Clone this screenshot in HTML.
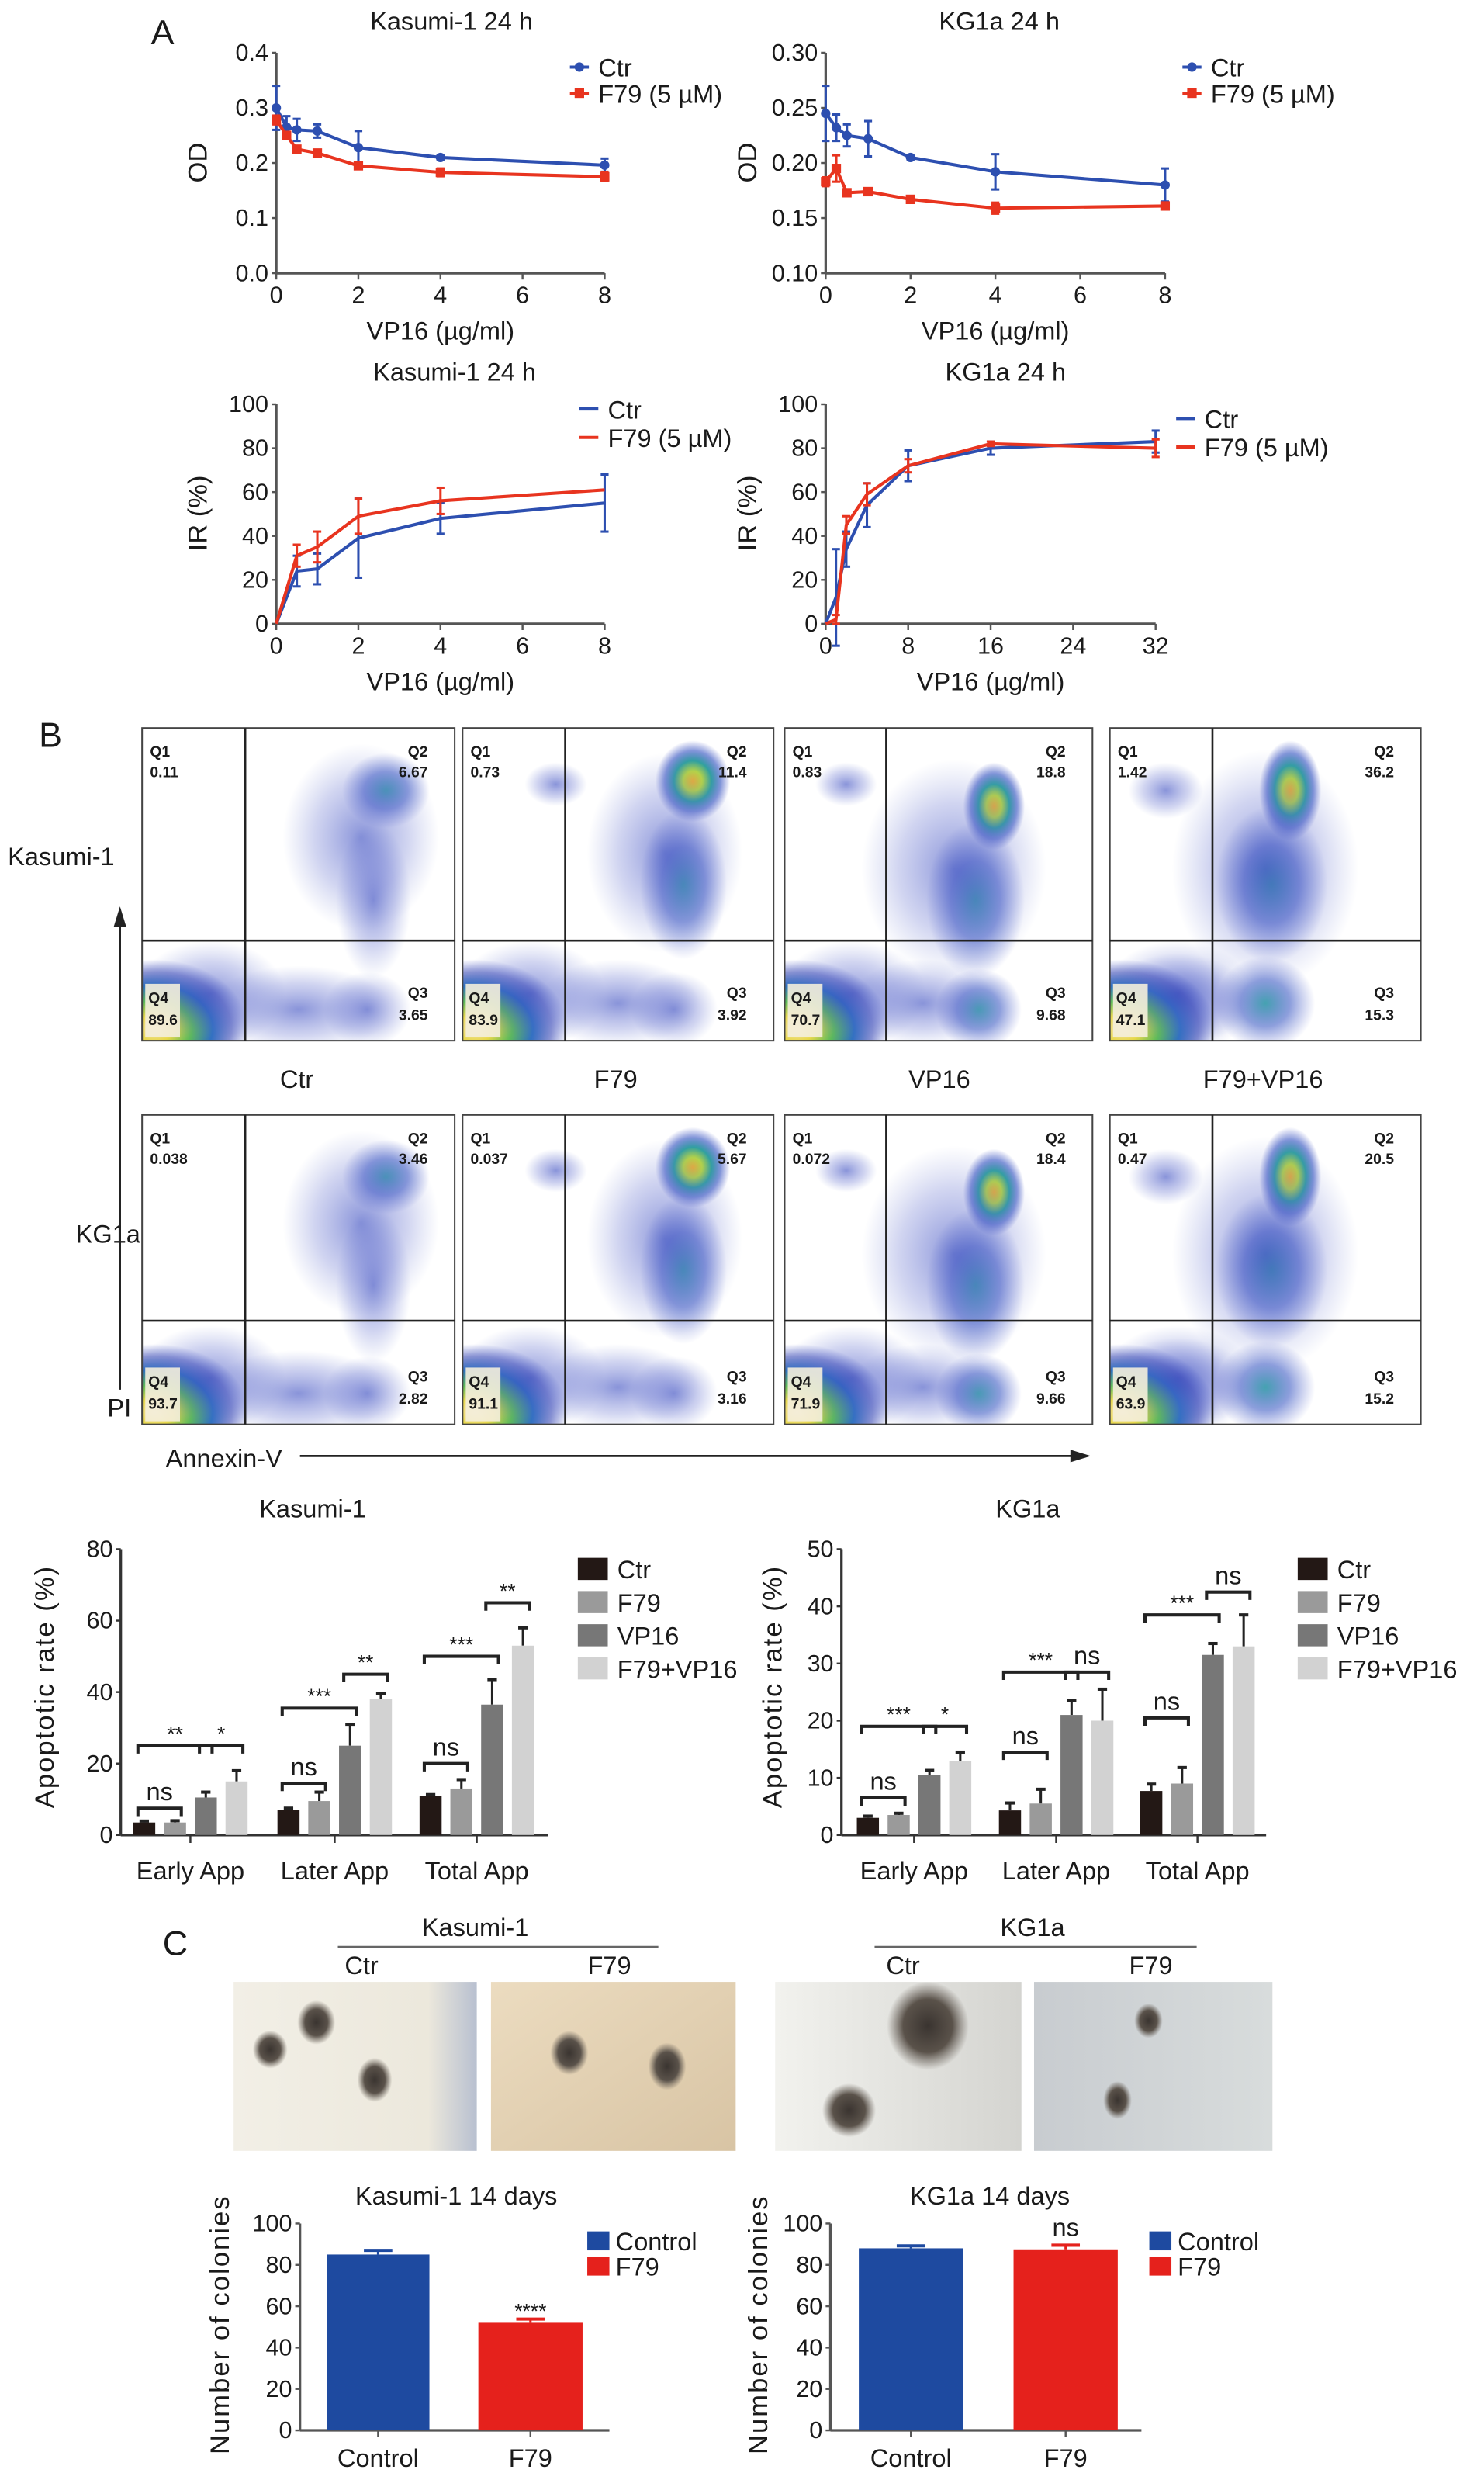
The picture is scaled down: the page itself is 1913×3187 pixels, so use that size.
<!DOCTYPE html>
<html><head><meta charset="utf-8"><style>
html,body{margin:0;padding:0;background:#fff}
svg{display:block}
text{font-family:"Liberation Sans Narrow","Liberation Sans",sans-serif;fill:#1a1a1a}
</style></head><body>
<svg id="fig" xmlns="http://www.w3.org/2000/svg" width="1913" height="3187" viewBox="0 0 940 1566" preserveAspectRatio="none">
<defs id="defs">
<radialGradient id="hot"><stop offset="0" stop-color="#f4e0b0"/><stop offset="0.2" stop-color="#e8d84a"/><stop offset="0.4" stop-color="#5cc050"/><stop offset="0.62" stop-color="#2a70c0"/><stop offset="0.82" stop-color="#3040b0" stop-opacity="0.55"/><stop offset="1" stop-color="#4050c0" stop-opacity="0"/></radialGradient>
<radialGradient id="warm"><stop offset="0" stop-color="#f0b030"/><stop offset="0.25" stop-color="#b8d840"/><stop offset="0.5" stop-color="#30a0a0"/><stop offset="0.75" stop-color="#3050c0" stop-opacity="0.6"/><stop offset="1" stop-color="#4050c0" stop-opacity="0"/></radialGradient>
<radialGradient id="mid"><stop offset="0" stop-color="#3098a8" stop-opacity="0.9"/><stop offset="0.5" stop-color="#3050c0" stop-opacity="0.55"/><stop offset="1" stop-color="#5060c8" stop-opacity="0"/></radialGradient>
<radialGradient id="cool"><stop offset="0" stop-color="#3a4cc0" stop-opacity="0.6"/><stop offset="0.6" stop-color="#5a68cc" stop-opacity="0.28"/><stop offset="1" stop-color="#7080d0" stop-opacity="0"/></radialGradient>
<radialGradient id="colony"><stop offset="0" stop-color="#3a3430"/><stop offset="0.6" stop-color="#5a524a"/><stop offset="1" stop-color="#6a625a" stop-opacity="0"/></radialGradient>
<linearGradient id="ph1" x1="0" x2="1"><stop offset="0" stop-color="#f2efe6"/><stop offset="0.8" stop-color="#ece8dc"/><stop offset="1" stop-color="#b8c0d0"/></linearGradient>
<linearGradient id="ph2" x1="0" x2="1" y1="0" y2="1"><stop offset="0" stop-color="#ecdcc0"/><stop offset="1" stop-color="#d8c4a4"/></linearGradient>
<linearGradient id="ph3" x1="0" x2="1"><stop offset="0" stop-color="#f2f2ee"/><stop offset="1" stop-color="#d4d4d0"/></linearGradient>
<linearGradient id="ph4" x1="0" x2="1"><stop offset="0" stop-color="#c8ccd0"/><stop offset="1" stop-color="#d8dcdc"/></linearGradient>
</defs>
<g id="root"></g>
</svg>
<script>
// ===== Panel A data =====
const odX = [0, 0.25, 0.5, 1, 2, 4, 8];
const odKasCtr = [0.30, 0.265, 0.26, 0.258, 0.228, 0.21, 0.196];
const odKasCtrErr = [0.04, 0.02, 0.02, 0.012, 0.03, 0.004, 0.012];
const odKasF79 = [0.278, 0.25, 0.225, 0.218, 0.195, 0.183, 0.175];
const odKasF79Err = [0.008, 0.006, 0.006, 0.006, 0.006, 0.007, 0.008];
const odKgCtr = [0.245, 0.232, 0.225, 0.222, 0.205, 0.192, 0.180];
const odKgCtrErr = [0.025, 0.012, 0.01, 0.016, 0.002, 0.016, 0.015];
const odKgF79 = [0.183, 0.195, 0.173, 0.174, 0.167, 0.159, 0.161];
const odKgF79Err = [0.004, 0.012, 0.003, 0.003, 0.003, 0.005, 0.003];
const irKasX = [0, 0.5, 1, 2, 4, 8];
const irKasCtr = [0, 24, 25, 39, 48, 55];
const irKasCtrErr = [0, 7, 7, 18, 7, 13];
const irKasF79 = [0, 31, 35, 49, 56, 61];
const irKasF79Err = [0, 5, 7, 8, 6, 0];
const irKgX = [0, 1, 2, 4, 8, 16, 32];
const irKgCtr = [0, 12, 34, 54, 72, 80, 83];
const irKgCtrErr = [0, 22, 8, 10, 7, 3, 5];
const irKgF79 = [0, 2, 45, 59, 72, 82, 80];
const irKgF79Err = [0, 2, 4, 5, 3, 1, 4];
// ===== Panel B bars =====
const groups = ["Early App", "Later App", "Total App"];
const seriesNames = ["Ctr", "F79", "VP16", "F79+VP16"];
const kasBar = [[3.5, 3.5, 10.5, 15], [7, 9.5, 25, 38], [11, 13, 36.5, 53]];
const kasBarErr = [[0.4, 0.5, 1.5, 3], [0.5, 2.5, 6, 1.5], [0.3, 2.5, 7, 5]];
const kgBar = [[3, 3.5, 10.5, 13], [4.3, 5.5, 21, 20], [7.7, 9, 31.5, 33]];
const kgBarErr = [[0.3, 0.3, 0.8, 1.5], [1.3, 2.5, 2.5, 5.5], [1.2, 2.8, 2, 5.5]];
// brackets: [group, fromBar, toBar, yValue, label]
const kasBrk = [[0,0,1,7.5,"ns"],[0,0,2,25,"**"],[0,2,3,25,"*"],[1,0,1,14.5,"ns"],[1,0,2,35.5,"***"],[1,2,3,45,"**"],[2,0,1,20,"ns"],[2,0,2,50,"***"],[2,2,3,65,"**"]];
const kgBrk = [[0,0,1,6.5,"ns"],[0,0,2,19,"***"],[0,2,3,19,"*"],[1,0,1,14.5,"ns"],[1,0,2,28.5,"***"],[1,2,3,28.5,"ns"],[2,0,1,20.5,"ns"],[2,0,2,38.5,"***"],[2,2,3,42.5,"ns"]];
// ===== Flow values =====
const flowCols = ["Ctr", "F79", "VP16", "F79+VP16"];
const flowKas = [["0.11","6.67","3.65","89.6"],["0.73","11.4","3.92","83.9"],["0.83","18.8","9.68","70.7"],["1.42","36.2","15.3","47.1"]];
const flowKg = [["0.038","3.46","2.82","93.7"],["0.037","5.67","3.16","91.1"],["0.072","18.4","9.66","71.9"],["0.47","20.5","15.2","63.9"]];
// ===== Panel C =====
const colCats = ["Control", "F79"];
const colKas = [85, 52];
const colKasErr = [2, 1.8];
const colKg = [88, 87.5];
const colKgErr = [1.2, 2];

const NS = "http://www.w3.org/2000/svg";
const root = document.getElementById("root");
const defs = document.getElementById("defs");
function el(tag, attrs, parent, txt) {
  const e = document.createElementNS(NS, tag);
  for (const k in attrs) e.setAttribute(k, attrs[k]);
  if (txt !== undefined) e.textContent = txt;
  (parent || root).appendChild(e);
  return e;
}
function lin(d0, d1, r0, r1) { return v => r0 + (v - d0) * (r1 - r0) / (d1 - d0); }
function grp(name) { const g = el("g", {});   return g; }
function txt(g, x, y, s, size, anchor, name, extra) {
  const t = el("text", Object.assign({x: x, y: y, "font-size": size, "text-anchor": anchor || "middle"}, extra || {}), g, s);
  
  
  return t;
}
const BLUE = "#2d4fb0", RED = "#e8341f";

function axes(g, x0, x1, y0, y1, ys, yticks, ylab, xs, xticks, xlab, axisCol) {
  const c = axisCol || "#555";
  const ax = el("line", {x1: x0, y1: y0, x2: x0, y2: y1, stroke: c, "stroke-width": 1.6}, g);
   
  const bx = el("line", {x1: x0, y1: y0, x2: x1, y2: y0, stroke: c, "stroke-width": 1.6}, g);
   
  yticks.forEach((v, i) => {
    el("line", {x1: x0 - 3, y1: ys(v), x2: x0, y2: ys(v), stroke: c, "stroke-width": 1.2}, g);
    txt(g, x0 - 5, ys(v) + 5, ylab[i], 15, "end", "y-tick-label");
  });
  if (xs) xticks.forEach((v, i) => {
    el("line", {x1: xs(v), y1: y0, x2: xs(v), y2: y0 + 4, stroke: c, "stroke-width": 1.2}, g);
    txt(g, xs(v), y0 + 19, xlab[i], 15, "middle", "x-tick-label");
  });
}
function lineSeries(g, xs, ys, X, Y, E, col, marker, name) {
  const pts = X.map((x, i) => xs(x) + "," + ys(Y[i])).join(" ");
  const pl = el("polyline", {points: pts, fill: "none", stroke: col, "stroke-width": 2}, g);
   
  X.forEach((x, i) => {
    if (E[i] > 0) {
      const a = ys(Y[i] + E[i]), b = ys(Y[i] - E[i]), cx = xs(x);
      el("line", {x1: cx, y1: a, x2: cx, y2: b, stroke: col, "stroke-width": 1.5}, g);
      el("line", {x1: cx - 2.5, y1: a, x2: cx + 2.5, y2: a, stroke: col, "stroke-width": 1.5}, g);
      el("line", {x1: cx - 2.5, y1: b, x2: cx + 2.5, y2: b, stroke: col, "stroke-width": 1.5}, g);
    }
    if (marker === "c") { const m = el("circle", {cx: xs(x), cy: ys(Y[i]), r: 3, fill: col}, g);   }
    if (marker === "s") { const m = el("rect", {x: xs(x) - 3, y: ys(Y[i]) - 3, width: 6, height: 6, fill: col}, g);   }
  });
}
function legendLine(g, x, y, col, label, marker) {
  el("line", {x1: x - 6, y1: y, x2: x + 6, y2: y, stroke: col, "stroke-width": 2}, g);
  if (marker === "c") el("circle", {cx: x, cy: y, r: 3, fill: col}, g);
  if (marker === "s") el("rect", {x: x - 3, y: y - 3, width: 6, height: 6, fill: col}, g);
  txt(g, x + 12, y + 6, label, 16, "start", "legend-label");
}

// ---------- Panel A ----------
const pA = grp("panel-a");
txt(pA, 103, 28, "A", 22, "middle", "panel-label-a", {"font-family": "Liberation Sans, sans-serif"});
function odChart(name, title, x0, x1, ymin, ymax, yt, ytl, C, CE, F, FE, lgx, tcx) {
  const g = grp(name); pA.appendChild(g);
  const xs = lin(0, 8, x0, x1), ys = lin(ymin, ymax, 173, 33.4);
  txt(g, tcx, 19, title, 16, "middle", "chart-title");
  axes(g, x0, x1, 173, 33.4, ys, yt, ytl, xs, [0, 2, 4, 6, 8], ["0", "2", "4", "6", "8"], "#555");
  txt(g, (x0 + x1) / 2, 215, "VP16 (µg/ml)", 16, "middle", "x-axis-title");
  txt(g, 0, 0, "OD", 17, "middle", "y-axis-title", {transform: "translate(" + (x0 - 44) + ",103) rotate(-90)"});
  lineSeries(g, xs, ys, odX, C, CE, BLUE, "c", "ctr");
  lineSeries(g, xs, ys, odX, F, FE, RED, "s", "f79");
  legendLine(g, lgx, 42.5, BLUE, "Ctr", "c");
  legendLine(g, lgx, 59, RED, "F79 (5 µM)", "s");
}
odChart("od-kasumi-chart", "Kasumi-1 24 h", 175, 383, 0, 0.4, [0, 0.1, 0.2, 0.3, 0.4], ["0.0", "0.1", "0.2", "0.3", "0.4"], odKasCtr, odKasCtrErr, odKasF79, odKasF79Err, 367, 286);
odChart("od-kg1a-chart", "KG1a 24 h", 523, 738, 0.10, 0.30, [0.10, 0.15, 0.20, 0.25, 0.30], ["0.10", "0.15", "0.20", "0.25", "0.30"], odKgCtr, odKgCtrErr, odKgF79, odKgF79Err, 755, 633);
function irChart(name, title, x0, x1, xmax, xt, X, C, CE, F, FE, lgx, lgy, tcx) {
  const g = grp(name); pA.appendChild(g);
  const xs = lin(0, xmax, x0, x1), ys = lin(0, 100, 395, 256);
  txt(g, tcx, 241, title, 16, "middle", "chart-title");
  axes(g, x0, x1, 395, 256, ys, [0, 20, 40, 60, 80, 100], ["0", "20", "40", "60", "80", "100"], xs, xt, xt.map(String), "#555");
  txt(g, (x0 + x1) / 2, 437, "VP16 (µg/ml)", 16, "middle", "x-axis-title");
  txt(g, 0, 0, "IR (%)", 17, "middle", "y-axis-title", {transform: "translate(" + (x0 - 44) + ",325) rotate(-90)"});
  lineSeries(g, xs, ys, X, C, CE, BLUE, "", "ctr");
  lineSeries(g, xs, ys, X, F, FE, RED, "", "f79");
  legendLine(g, lgx, lgy, BLUE, "Ctr", "");
  legendLine(g, lgx, lgy + 18, RED, "F79 (5 µM)", "");
}
irChart("ir-kasumi-chart", "Kasumi-1 24 h", 175, 383, 8, [0, 2, 4, 6, 8], irKasX, irKasCtr, irKasCtrErr, irKasF79, irKasF79Err, 373, 259, 288);
irChart("ir-kg1a-chart", "KG1a 24 h", 523, 732, 32, [0, 8, 16, 24, 32], irKgX, irKgCtr, irKgCtrErr, irKgF79, irKgF79Err, 751, 265, 637);

// ---------- Panel B flow ----------
const pB = grp("panel-b-flow");
txt(pB, 32, 473, "B", 22, "middle", "panel-label-b", {"font-family": "Liberation Sans, sans-serif"});
const colX = [[90, 288], [293, 490], [497, 692], [703, 900]];
const rowY = [[461, 659], [706, 902]];
// blob shapes per column (fractions of panel): [cx, cy, rx, ry, gradient]
const blobs = [
  [[0.78,0.2,0.14,0.12,"mid"],[0.74,0.55,0.12,0.25,"cool"],[0.72,0.9,0.14,0.12,"cool"],[0.5,0.9,0.3,0.14,"cool"],[0.7,0.35,0.25,0.3,"cool"]],
  [[0.74,0.17,0.12,0.13,"warm"],[0.71,0.5,0.14,0.24,"mid"],[0.3,0.18,0.1,0.07,"cool"],[0.68,0.9,0.14,0.12,"cool"],[0.5,0.88,0.26,0.14,"cool"],[0.65,0.4,0.25,0.32,"cool"]],
  [[0.68,0.25,0.1,0.14,"warm"],[0.62,0.55,0.16,0.25,"mid"],[0.2,0.18,0.1,0.07,"cool"],[0.63,0.9,0.14,0.13,"mid"],[0.45,0.88,0.24,0.14,"cool"],[0.55,0.45,0.3,0.35,"cool"]],
  [[0.58,0.2,0.1,0.16,"warm"],[0.52,0.5,0.18,0.25,"mid"],[0.18,0.2,0.12,0.09,"cool"],[0.5,0.88,0.16,0.15,"mid"],[0.22,0.88,0.24,0.16,"cool"],[0.5,0.45,0.3,0.38,"cool"]]
];
function flowPanel(r, c, vals) {
  const [x0, x1] = colX[c], [y0, y1] = rowY[r], w = x1 - x0, h = y1 - y0;
  const g = grp("flow-plot-" + (r === 0 ? "kasumi" : "kg1a") + "-" + flowCols[c].toLowerCase().replace("+", "-")); pB.appendChild(g);
  const cid = "clip" + r + "_" + c;
  const cp = el("clipPath", {id: cid}, defs);
  el("rect", {x: x0, y: y0, width: w, height: h}, cp);
  const inner = el("g", {"clip-path": "url(#" + cid + ")"}, g);
  el("rect", {x: x0, y: y0, width: w, height: h, fill: "#fff"}, inner);
  blobs[c].forEach(b => el("ellipse", {cx: x0 + b[0] * w, cy: y0 + b[1] * h, rx: b[2] * w, ry: b[3] * h, fill: "url(#" + b[4] + ")"}, inner));
  el("ellipse", {cx: x0 + 0.04 * w, cy: y0 + 0.96 * h, rx: 0.3 * w, ry: 0.22 * h, fill: "url(#hot)"}, inner);
  el("ellipse", {cx: x0 + 0.22 * w, cy: y0 + 0.85 * h, rx: 0.24 * w, ry: 0.17 * h, fill: "url(#cool)"}, inner);
  el("rect", {x: x0 + 2, y: y1 - 36, width: 22, height: 34, fill: "#f4eedc", opacity: 0.9}, inner);
  const vx = x0 + 0.33 * w, hy = y0 + (r === 0 ? 0.68 : 0.665) * h;
  el("rect", {x: x0, y: y0, width: w, height: h, fill: "none", stroke: "#444", "stroke-width": 1}, g);
  el("line", {x1: vx, y1: y0, x2: vx, y2: y1, stroke: "#222", "stroke-width": 1.3}, g);
  el("line", {x1: x0, y1: hy, x2: x1, y2: hy, stroke: "#222", "stroke-width": 1.3}, g);
  const fs = 9.5, fw = {"font-weight": "bold", "font-family": "Liberation Sans, sans-serif"};
  txt(g, x0 + 5, y0 + 18, "Q1", fs, "start", "q1-label", fw);
  txt(g, x0 + 5, y0 + 31, vals[0], fs, "start", "q1-value", fw);
  txt(g, x1 - 17, y0 + 18, "Q2", fs, "end", "q2-label", fw);
  txt(g, x1 - 17, y0 + 31, vals[1], fs, "end", "q2-value", fw);
  txt(g, x1 - 17, y1 - 27, "Q3", fs, "end", "q3-label", fw);
  txt(g, x1 - 17, y1 - 13, vals[2], fs, "end", "q3-value", fw);
  txt(g, x0 + 4, y1 - 24, "Q4", fs, "start", "q4-label", fw);
  txt(g, x0 + 4, y1 - 10, vals[3], fs, "start", "q4-value", fw);
}
for (let c = 0; c < 4; c++) { flowPanel(0, c, flowKas[c]); flowPanel(1, c, flowKg[c]); }
[188, 390, 595, 800].forEach((x, i) => txt(pB, x, 689, flowCols[i], 16, "middle", "condition-label"));
txt(pB, 5, 548, "Kasumi-1", 16, "start", "row-label-kasumi");
txt(pB, 48, 787, "KG1a", 16, "start", "row-label-kg1a");
txt(pB, 68, 897, "PI", 16, "start", "y-axis-title-pi");
txt(pB, 105, 929, "Annexin-V", 16, "start", "x-axis-title-annexin");
el("line", {x1: 76, y1: 880, x2: 76, y2: 585, stroke: "#222", "stroke-width": 1.3}, pB);
el("polygon", {points: "76,574 72,587 80,587", fill: "#222"}, pB);
el("line", {x1: 190, y1: 922, x2: 680, y2: 922, stroke: "#222", "stroke-width": 1.3}, pB);
el("polygon", {points: "691,922 678,918 678,926", fill: "#222"}, pB);

// ---------- Panel B bars ----------
const barCols = ["#231815", "#9a9a9a", "#777777", "#d2d2d2"];
function barChart(name, title, x0, xEnd, ticks, ymax, yt, D, E, BRK, lgx, tcx, ylx) {
  const g = grp(name);
  const ys = lin(0, ymax, 1162, 981);
  txt(g, tcx, 961, title, 16, "middle", "chart-title");
  axes(g, x0, xEnd, 1162, 981, ys, yt, yt.map(String), null, [], [], "#333");
  txt(g, 0, 0, "Apoptotic rate (%)", 17, "middle", "y-axis-title", {transform: "translate(" + ylx + ",1068) rotate(-90)", "letter-spacing": "1"});
  const step = 19.5, bw = 14;
  const bx = (gi, bi) => ticks[gi] + (bi - 1.5) * step;
  groups.forEach((gn, gi) => {
    el("line", {x1: ticks[gi], y1: 1162, x2: ticks[gi], y2: 1167, stroke: "#333", "stroke-width": 1.2}, g);
    txt(g, ticks[gi], 1190, gn, 16, "middle", "category-label");
    D[gi].forEach((v, bi) => {
      const cx = bx(gi, bi), top = ys(v), et = ys(v + E[gi][bi]);
      el("line", {x1: cx, y1: top, x2: cx, y2: et, stroke: "#222", "stroke-width": 1.5}, g);
      el("line", {x1: cx - 3, y1: et, x2: cx + 3, y2: et, stroke: "#222", "stroke-width": 2}, g);
      const r = el("rect", {x: cx - bw / 2, y: top, width: bw, height: 1162 - top, fill: barCols[bi]}, g);
      
      
    });
  });
  BRK.forEach(b => {
    const xa = bx(b[0], b[1]) - 4, xb = bx(b[0], b[2]) + 4, y = ys(b[3]);
    el("path", {d: "M" + xa + "," + (y + 5) + "V" + y + "H" + xb + "V" + (y + 5), fill: "none", stroke: "#222", "stroke-width": 2}, g);
    const isNs = b[4] === "ns";
    txt(g, (xa + xb) / 2, y - (isNs ? 5 : 3), b[4], isNs ? 16 : 13, "middle", "significance-label");
  });
  seriesNames.forEach((s, i) => {
    const y = 993.5 + i * 21;
    const r = el("rect", {x: lgx, y: y - 7, width: 19, height: 14, fill: barCols[i]}, g);
     
    txt(g, lgx + 25, y + 6, s, 16, "start", "legend-label");
  });
}
barChart("apoptosis-kasumi-chart", "Kasumi-1", 76.5, 347, [120.6, 212, 302], 80, [0, 20, 40, 60, 80], kasBar, kasBarErr, kasBrk, 366, 198, 34);
barChart("apoptosis-kg1a-chart", "KG1a", 533, 802, [579, 669, 758.5], 50, [0, 10, 20, 30, 40, 50], kgBar, kgBarErr, kgBrk, 822, 651, 495);

// ---------- Panel C ----------
const pC = grp("panel-c");
txt(pC, 111, 1238, "C", 22, "middle", "panel-label-c", {"font-family": "Liberation Sans, sans-serif"});
txt(pC, 301, 1226, "Kasumi-1", 16, "middle", "group-label-kasumi");
txt(pC, 654, 1226, "KG1a", 16, "middle", "group-label-kg1a");
el("line", {x1: 214, y1: 1233, x2: 417, y2: 1233, stroke: "#666", "stroke-width": 1.5}, pC);
el("line", {x1: 554, y1: 1233, x2: 758, y2: 1233, stroke: "#666", "stroke-width": 1.5}, pC);
[[229, "Ctr"], [386, "F79"], [572, "Ctr"], [729, "F79"]].forEach(p => txt(pC, p[0], 1250, p[1], 16, "middle", "photo-label"));
const photos = [
  [148, 302, "ph1", [[0.34, 0.24, 12, 14], [0.58, 0.58, 11, 14], [0.15, 0.4, 11, 12]]],
  [311, 466, "ph2", [[0.32, 0.42, 12, 14], [0.72, 0.5, 12, 15]]],
  [491, 647, "ph3", [[0.62, 0.26, 26, 28], [0.3, 0.76, 17, 17]]],
  [655, 806, "ph4", [[0.48, 0.23, 9, 11], [0.35, 0.7, 9, 12]]]
];
photos.forEach((p, i) => {
  const g = grp("colony-photo-" + (i + 1)); pC.appendChild(g);
  el("rect", {x: p[0], y: 1255, width: p[1] - p[0], height: 107, fill: "url(#" + p[2] + ")"}, g);
  p[3].forEach(c => el("ellipse", {cx: p[0] + c[0] * (p[1] - p[0]), cy: 1255 + c[1] * 107, rx: c[2], ry: c[3], fill: "url(#colony)"}, g));
});
const colColors = ["#1e4aa0", "#e5211c"];
function colonyChart(name, title, x0, xEnd, bars, D, E, sig, sigY, lgx, tcx, ylx) {
  const g = grp(name); pC.appendChild(g);
  const ys = lin(0, 100, 1539, 1408);
  txt(g, tcx, 1396, title, 16, "middle", "chart-title");
  axes(g, x0, xEnd, 1539, 1408, ys, [0, 20, 40, 60, 80, 100], ["0", "20", "40", "60", "80", "100"], null, [], [], "#555");
  txt(g, 0, 0, "Number of colonies", 17, "middle", "y-axis-title", {transform: "translate(" + ylx + ",1472) rotate(-90)", "letter-spacing": "1"});
  D.forEach((v, i) => {
    const [a, b] = bars[i], cx = (a + b) / 2, top = ys(v), et = ys(v + E[i]);
    el("line", {x1: cx, y1: top, x2: cx, y2: et, stroke: colColors[i], "stroke-width": 1.5}, g);
    el("line", {x1: cx - 9, y1: et, x2: cx + 9, y2: et, stroke: colColors[i], "stroke-width": 2}, g);
    const r = el("rect", {x: a, y: top, width: b - a, height: 1539 - top, fill: colColors[i]}, g);
    
    
    el("line", {x1: cx, y1: 1539, x2: cx, y2: 1543, stroke: "#555", "stroke-width": 1.2}, g);
    txt(g, cx, 1562, colCats[i], 16, "middle", "x-tick-label");
  });
  txt(g, (bars[1][0] + bars[1][1]) / 2, sigY, sig, sig === "ns" ? 16 : 13, "middle", "significance-label");
  colCats.forEach((s, i) => {
    const y = 1419 + i * 16;
    const r = el("rect", {x: lgx, y: y - 6, width: 14, height: 12, fill: colColors[i]}, g);
     
    txt(g, lgx + 18, y + 6, s, 16, "start", "legend-label");
  });
}
colonyChart("colony-kasumi-chart", "Kasumi-1 14 days", 190, 386, [[207, 272], [303, 369]], colKas, colKasErr, "****", 1468, 372, 289, 145);
colonyChart("colony-kg1a-chart", "KG1a 14 days", 526, 723, [[544, 610], [642, 708]], colKg, colKgErr, "ns", 1416, 728, 627, 486);
</script>
</body></html>
